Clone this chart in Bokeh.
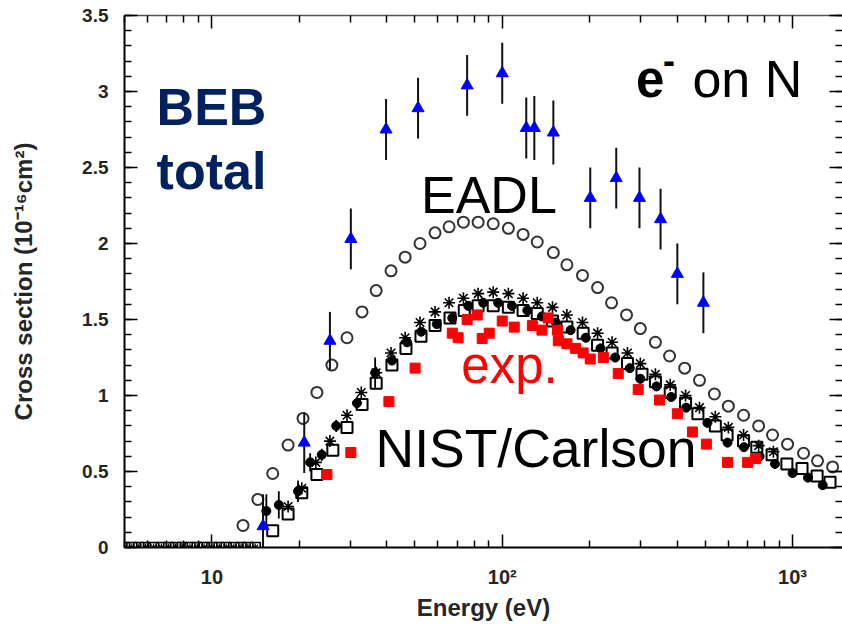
from bokeh.plotting import figure
from bokeh.models import (Range1d, LinearAxis, LogAxis, FixedTicker,
                          CustomJSTickFormatter, Label)
from bokeh.embed import file_html
from bokeh.resources import INLINE

# ---------------- data ----------------
eadl_energy = [12.8, 14.4, 16.2, 18.3, 20.6, 23.0, 25.9, 29.2, 32.9, 36.8, 41.4,
               46.3, 52.1, 58.7, 65.6, 73.5, 82.6, 93.1, 105, 118, 132, 150, 167,
               189, 213, 238, 268, 299, 337, 377, 425, 478, 538, 601, 678, 764,
               853, 961, 1091, 1219, 1374]
eadl_sigma = [0.145, 0.316, 0.487, 0.674, 0.849, 1.02, 1.20, 1.38, 1.55, 1.69, 1.82,
              1.91, 2.00, 2.07, 2.11, 2.14, 2.14, 2.13, 2.10, 2.06, 2.01, 1.94, 1.86,
              1.79, 1.71, 1.61, 1.53, 1.44, 1.35, 1.26, 1.18, 1.10, 1.01, 0.93, 0.87,
              0.80, 0.74, 0.68, 0.62, 0.57, 0.53]

star_energy = [18.3, 20.4, 22.8, 25.5, 29.2, 32.7, 36.8, 41.4, 46.3, 52.1, 58.7, 65.6,
               73.5, 82.6, 93.1, 105, 118, 132, 149, 167, 189, 213, 239, 270, 299,
               337, 379, 428, 478, 542, 601, 678, 764, 859]
star_sigma = [0.27, 0.39, 0.56, 0.70, 0.87, 1.02, 1.15, 1.28, 1.38, 1.48, 1.55, 1.61,
              1.64, 1.67, 1.68, 1.67, 1.64, 1.61, 1.58, 1.53, 1.48, 1.41, 1.35, 1.28,
              1.21, 1.14, 1.07, 1.00, 0.92, 0.86, 0.79, 0.74, 0.67, 0.63]

square_energy = [16.2, 18.3, 20.4, 23.0, 26.1, 29.2, 32.9, 36.8, 41.7, 46.6, 52.5,
                 58.7, 66.1, 74.0, 82.6, 93.1, 105, 118, 132, 149, 167, 190, 213, 239,
                 270, 303, 337, 379, 428, 472, 542, 595, 678, 753, 850, 956, 1078,
                 1215, 1346]
square_sigma = [0.11, 0.22, 0.36, 0.48, 0.64, 0.79, 0.94, 1.08, 1.20, 1.31, 1.39,
                1.46, 1.51, 1.56, 1.59, 1.59, 1.58, 1.56, 1.54, 1.49, 1.45, 1.41, 1.33,
                1.28, 1.21, 1.14, 1.09, 1.02, 0.95, 0.88, 0.80, 0.74, 0.70, 0.66, 0.61,
                0.55, 0.52, 0.47, 0.43]

dot_energy = [15.4, 17.0, 19.8, 21.8, 23.9, 26.8, 31.6, 36.5, 41.7, 47.0, 52.6, 59.5,
              67.3, 76.4, 86.0, 96.8, 108, 122, 137, 153, 172, 194, 218, 245, 275,
              299, 340, 382, 430, 509, 597, 680, 770, 870, 1000, 1130, 1270]
dot_sigma = [0.24, 0.28, 0.37, 0.56, 0.61, 0.80, 0.95, 1.15, 1.23, 1.35, 1.42, 1.47,
             1.51, 1.59, 1.61, 1.61, 1.59, 1.56, 1.52, 1.48, 1.43, 1.38, 1.31, 1.25,
             1.18, 1.11, 1.06, 0.99, 0.92, 0.82, 0.69, 0.66, 0.60, 0.55, 0.49, 0.46,
             0.41]
dot_err = [0.11, 0.09, 0.07, 0.06, 0.04, 0.04, 0.04, 0.10, 0.03, 0.03, 0.03, 0.03,
           0.03, 0.03, 0.03, 0.03, 0.03, 0.03, 0.03, 0.03, 0.03, 0.03, 0.03, 0.03,
           0.03, 0.03, 0.03, 0.03, 0.03, 0.03, 0.03, 0.03, 0.03, 0.03, 0.03, 0.03,
           0.03]

zero_energy = [5.0, 5.3, 5.6, 5.9, 6.3, 6.7, 7.1, 7.5, 7.9, 8.4, 8.9, 9.4, 10.0,
               10.6, 11.2, 11.9, 12.6, 13.3, 14.1]
zero_sigma = [0.0] * len(zero_energy)

exp_energy = [24.9, 30.1, 40.7, 50.1, 67.3, 70.5, 75.7, 82.0, 85.3, 90.2, 100, 110,
              127, 137, 144, 155, 156, 167, 179, 190, 201, 223, 251, 294, 348, 401,
              452, 505, 597, 700, 745]
exp_sigma = [0.48, 0.625, 0.96, 1.18, 1.41, 1.38, 1.50, 1.53, 1.375, 1.41, 1.49, 1.45,
             1.46, 1.43, 1.51, 1.43, 1.36, 1.34, 1.31, 1.28, 1.24, 1.25, 1.145, 1.04,
             0.97, 0.88, 0.76, 0.68, 0.56, 0.56, 0.585]

tri_energy = [15.0, 20.8, 25.5, 30.1, 39.8, 51.3, 75.7, 100, 121, 129, 150, 201, 247,
              297, 351, 401, 493]
tri_sigma = [0.14, 0.69, 1.36, 2.03, 2.75, 2.89, 3.04, 3.12, 2.76, 2.76, 2.73, 2.30,
             2.43, 2.30, 2.16, 1.80, 1.61]
tri_err = [0.21, 0.20, 0.19, 0.20, 0.20, 0.20, 0.20, 0.20, 0.20, 0.21, 0.21, 0.20,
           0.20, 0.20, 0.20, 0.20, 0.20]

x_major_ticks = [10, 100, 1000]
x_tick_labels = ["10", "10\u00b2", "10\u00b3"]
y_major_ticks = [0, 0.5, 1, 1.5, 2, 2.5, 3, 3.5]
y_minor_ticks = [round(0.1 * i, 1) for i in range(36)]
x_minor_ticks = [m * 10 ** k for k in range(0, 4) for m in range(2, 10)]

FONT = "Liberation Sans"
AX_COLOR = "#262626"

p = figure(width=842, height=626, x_axis_type="log",
           x_range=Range1d(5, 1486), y_range=Range1d(0, 3.5),
           output_backend="svg", toolbar_location=None,
           min_border_left=124, min_border_right=0, min_border_top=15,
           min_border_bottom=79)
p.grid.visible = False
p.outline_line_color = None
p.background_fill_color = "white"
p.border_fill_color = "white"

xa = p.xaxis[0]
xa.ticker = FixedTicker(ticks=x_major_ticks, minor_ticks=x_minor_ticks)
xa.formatter = CustomJSTickFormatter(
    args=dict(vals=x_major_ticks, labs=x_tick_labels),
    code="const i = vals.indexOf(Math.round(tick)); return i >= 0 ? labs[i] : ''")
xa.axis_label = "Energy (eV)"
ya = p.yaxis[0]
ya.ticker = FixedTicker(ticks=y_major_ticks, minor_ticks=y_minor_ticks)
ya.formatter = CustomJSTickFormatter(code="return String(tick)")
ya.axis_label = "Cross section (10\u207b\u00b9\u2076cm\u00b2)"

for ax in (xa, ya):
    ax.axis_line_color = "black"
    ax.axis_line_width = 2
    ax.major_tick_in = 13
    ax.major_tick_out = 0
    ax.minor_tick_in = 7
    ax.minor_tick_out = 0
    ax.major_tick_line_color = "black"
    ax.minor_tick_line_color = "black"
    ax.major_tick_line_width = 1.5
    ax.minor_tick_line_width = 1.5
    ax.major_label_text_font = FONT
    ax.major_label_text_font_style = "bold"
    ax.major_label_text_font_size = "19px"
    ax.major_label_text_color = AX_COLOR
    ax.axis_label_text_font = FONT
    ax.axis_label_text_font_style = "bold"
    ax.axis_label_text_font_size = "24px"
    ax.axis_label_text_color = AX_COLOR
xa.major_label_text_font_size = "20px"
xa.major_label_standoff = 18
xa.axis_label_standoff = 3
ya.major_label_standoff = 16
ya.axis_label_standoff = 42

top = LogAxis(ticker=FixedTicker(ticks=x_major_ticks, minor_ticks=x_minor_ticks),
              formatter=CustomJSTickFormatter(code="return ''"),
              axis_line_color="#555555", axis_line_width=1.5,
              major_tick_in=13, major_tick_out=0, minor_tick_in=7, minor_tick_out=0,
              major_tick_line_color="black", minor_tick_line_color="black",
              major_tick_line_width=1.5, minor_tick_line_width=1.5,
              major_label_standoff=0, major_label_text_font_size="0px")
p.add_layout(top, "above")
right = LinearAxis(ticker=FixedTicker(ticks=y_major_ticks, minor_ticks=y_minor_ticks),
                   formatter=CustomJSTickFormatter(code="return ''"),
                   axis_line_color=None,
                   major_tick_in=13, major_tick_out=0, minor_tick_in=7, minor_tick_out=0,
                   major_tick_line_color="black", minor_tick_line_color="black",
                   major_tick_line_width=1.5, minor_tick_line_width=1.5,
                   major_label_standoff=0, major_label_text_font_size="0px")
p.add_layout(right, "right")

# ---------------- glyphs ----------------
p.scatter(eadl_energy, eadl_sigma, marker="circle", size=11, fill_color=None,
          line_color="#333333", line_width=2)

dot_lo = [s - e for s, e in zip(dot_sigma, dot_err)]
dot_hi = [s + e for s, e in zip(dot_sigma, dot_err)]
p.segment(dot_energy, dot_lo, dot_energy, dot_hi, line_color="black", line_width=1.8)
p.scatter(dot_energy, dot_sigma, marker="circle", size=9, fill_color="black",
          line_color="black")
p.scatter(zero_energy, zero_sigma, marker="square", size=10, fill_color=None,
          line_color="black", line_width=1.6)
p.scatter(zero_energy, zero_sigma, marker="asterisk", size=8, line_color="black",
          line_width=1.2)
p.scatter(square_energy, square_sigma, marker="square", size=11, fill_color=None,
          line_color="black", line_width=2)
p.scatter(star_energy, star_sigma, marker="asterisk", size=12, line_color="black",
          line_width=1.6)
p.scatter(exp_energy, exp_sigma, marker="square", size=10, fill_color="#ff0000",
          line_color="#ff0000")

tri_lo = [s - e for s, e in zip(tri_sigma, tri_err)]
tri_hi = [s + e for s, e in zip(tri_sigma, tri_err)]
p.segment(tri_energy, tri_lo, tri_energy, tri_hi, line_color="#111111", line_width=2)
p.scatter(tri_energy, tri_sigma, marker="triangle", size=12, fill_color="#0000ff",
          line_color="#0000ff")

# ---------------- annotations ----------------
def lab(x, y, text, size, color="black", style="normal"):
    p.add_layout(Label(x=x, y=y, x_units="data", y_units="data", text=text,
                       text_font=FONT, text_font_size=size, text_font_style=style,
                       text_color=color, text_align="left",
                       text_baseline="alphabetic"))

lab(6.45, 2.895, "BEB", "52px", "#002060", "bold")
lab(6.45, 2.480, "total", "52px", "#002060", "bold")
lab(289, 3.079, "e", "51px", "black", "bold")
lab(358, 3.21, "-", "36px", "black", "bold")
lab(452, 3.079, "on N", "52px")
lab(52.5, 2.322, "EADL", "52px")
lab(72.3, 1.197, "exp.", "51px", "#ff0000")
lab(36.6, 0.651, "NIST/Carlson", "53.5px")

open("out.html", "w").write(file_html(p, INLINE))
